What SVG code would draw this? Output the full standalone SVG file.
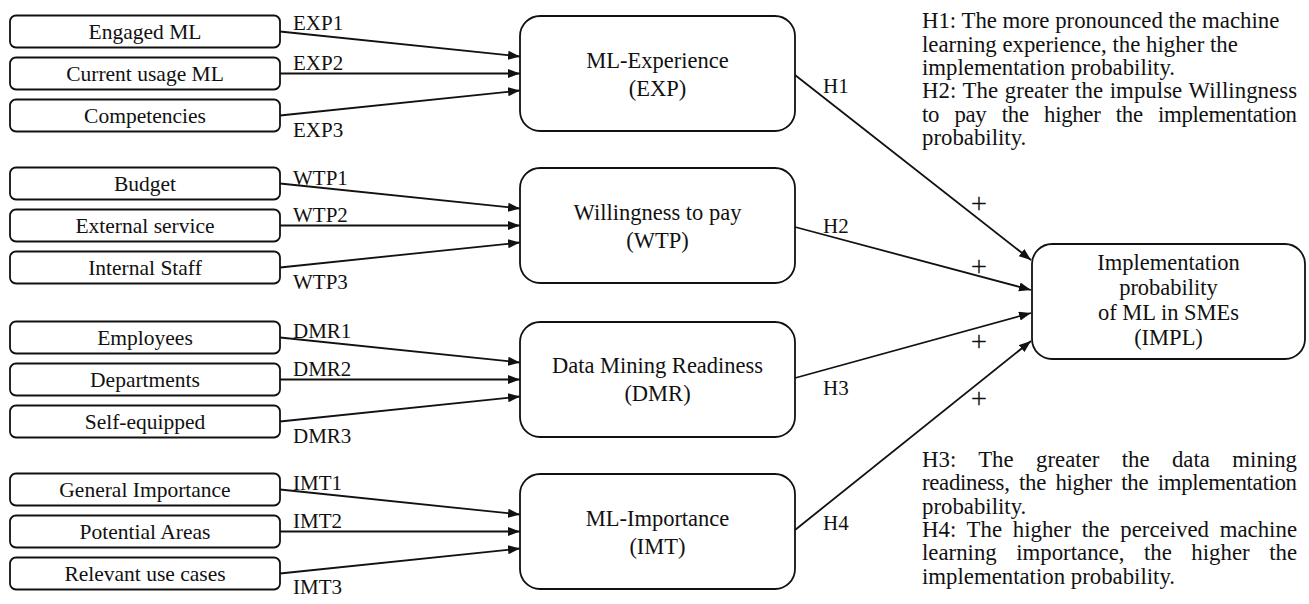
<svg xmlns="http://www.w3.org/2000/svg" width="1309" height="604" viewBox="0 0 1309 604">
<style>
text{font-family:"Liberation Serif","Times New Roman",serif;fill:#111}
.sb{fill:#fff;stroke:#111;stroke-width:1.8}
.mb{fill:#fff;stroke:#111;stroke-width:1.8}
.st{font-size:21.5px;text-anchor:middle}
.mt{font-size:22.5px;text-anchor:middle}
.lb{font-size:21px}
.pl{font-size:29px;text-anchor:middle}
.rt{font-size:22.8px}
.cn line{stroke:#111;stroke-width:1.8;fill:none}
</style>
<defs>
<marker id="ah" markerUnits="userSpaceOnUse" markerWidth="13" markerHeight="10" refX="12" refY="4.5" orient="auto">
<path d="M0,0 L12,4.5 L0,9 z" fill="#111"/>
</marker>
</defs>
<rect width="1309" height="604" fill="#fff"/>

<g id="connectors" class="cn">
<line x1="280" y1="31.5" x2="520" y2="56.5" marker-end="url(#ah)"/>
<line x1="280" y1="73.5" x2="520" y2="73.5" marker-end="url(#ah)"/>
<line x1="280" y1="115.5" x2="520" y2="90.5" marker-end="url(#ah)"/>
<line x1="280" y1="183.5" x2="520" y2="208.5" marker-end="url(#ah)"/>
<line x1="280" y1="225.5" x2="520" y2="225.5" marker-end="url(#ah)"/>
<line x1="280" y1="267.5" x2="520" y2="242.5" marker-end="url(#ah)"/>
<line x1="280" y1="337.5" x2="520" y2="362.5" marker-end="url(#ah)"/>
<line x1="280" y1="379.5" x2="520" y2="379.5" marker-end="url(#ah)"/>
<line x1="280" y1="421.5" x2="520" y2="396.5" marker-end="url(#ah)"/>
<line x1="280" y1="489.5" x2="520" y2="514.5" marker-end="url(#ah)"/>
<line x1="280" y1="531.5" x2="520" y2="531.5" marker-end="url(#ah)"/>
<line x1="280" y1="573.5" x2="520" y2="548.5" marker-end="url(#ah)"/>
<line x1="795" y1="75" x2="1031" y2="260" marker-end="url(#ah)"/>
<line x1="795" y1="227" x2="1031" y2="290" marker-end="url(#ah)"/>
<line x1="795" y1="378" x2="1031" y2="313" marker-end="url(#ah)"/>
<line x1="795" y1="530" x2="1031" y2="341" marker-end="url(#ah)"/>
</g>

<g id="labels">
<text class="lb" x="293" y="30">EXP1</text>
<text class="lb" x="293" y="70">EXP2</text>
<text class="lb" x="293" y="137">EXP3</text>
<text class="lb" x="293" y="185">WTP1</text>
<text class="lb" x="293" y="222">WTP2</text>
<text class="lb" x="293" y="289">WTP3</text>
<text class="lb" x="293" y="338">DMR1</text>
<text class="lb" x="293" y="376">DMR2</text>
<text class="lb" x="293" y="443">DMR3</text>
<text class="lb" x="293" y="490">IMT1</text>
<text class="lb" x="293" y="528">IMT2</text>
<text class="lb" x="293" y="594">IMT3</text>
<text class="lb" x="823" y="93">H1</text>
<text class="lb" x="823" y="233">H2</text>
<text class="lb" x="823" y="395">H3</text>
<text class="lb" x="823" y="530">H4</text>
<text class="pl" x="979" y="212.5">+</text>
<text class="pl" x="979" y="275.5">+</text>
<text class="pl" x="979" y="350.5">+</text>
<text class="pl" x="979" y="407.5">+</text>
</g>

<g id="n-engaged"><rect class="sb" x="10" y="15.5" width="270" height="32" rx="6"/><text class="st" x="145" y="39">Engaged ML</text></g>
<g id="n-current"><rect class="sb" x="10" y="57.5" width="270" height="32" rx="6"/><text class="st" x="145" y="81">Current usage ML</text></g>
<g id="n-competencies"><rect class="sb" x="10" y="99.5" width="270" height="32" rx="6"/><text class="st" x="145" y="123">Competencies</text></g>

<g id="n-budget"><rect class="sb" x="10" y="167.5" width="270" height="32" rx="6"/><text class="st" x="145" y="191">Budget</text></g>
<g id="n-external"><rect class="sb" x="10" y="209.5" width="270" height="32" rx="6"/><text class="st" x="145" y="233">External service</text></g>
<g id="n-internal"><rect class="sb" x="10" y="251.5" width="270" height="32" rx="6"/><text class="st" x="145" y="275">Internal Staff</text></g>

<g id="n-employees"><rect class="sb" x="10" y="321.5" width="270" height="32" rx="6"/><text class="st" x="145" y="345">Employees</text></g>
<g id="n-departments"><rect class="sb" x="10" y="363.5" width="270" height="32" rx="6"/><text class="st" x="145" y="387">Departments</text></g>
<g id="n-selfequipped"><rect class="sb" x="10" y="405.5" width="270" height="32" rx="6"/><text class="st" x="145" y="429">Self-equipped</text></g>

<g id="n-general"><rect class="sb" x="10" y="473.5" width="270" height="32" rx="6"/><text class="st" x="145" y="497">General Importance</text></g>
<g id="n-potential"><rect class="sb" x="10" y="515.5" width="270" height="32" rx="6"/><text class="st" x="145" y="539">Potential Areas</text></g>
<g id="n-relevant"><rect class="sb" x="10" y="557.5" width="270" height="32" rx="6"/><text class="st" x="145" y="581">Relevant use cases</text></g>

<g id="n-exp"><rect class="mb" x="520" y="16" width="275" height="115" rx="20"/><text class="mt" x="657.5" y="68">ML-Experience</text><text class="mt" x="657.5" y="96">(EXP)</text></g>
<g id="n-wtp"><rect class="mb" x="520" y="168" width="275" height="115" rx="20"/><text class="mt" x="657.5" y="220">Willingness to pay</text><text class="mt" x="657.5" y="248">(WTP)</text></g>
<g id="n-dmr"><rect class="mb" x="520" y="322" width="275" height="115" rx="20"/><text class="mt" x="657.5" y="373">Data Mining Readiness</text><text class="mt" x="657.5" y="401">(DMR)</text></g>
<g id="n-imt"><rect class="mb" x="520" y="474" width="275" height="115" rx="20"/><text class="mt" x="657.5" y="526">ML-Importance</text><text class="mt" x="657.5" y="554">(IMT)</text></g>

<g id="n-impl"><rect class="mb" x="1032" y="244" width="273" height="115" rx="20"/>
<text class="mt" x="1168.5" y="270">Implementation</text>
<text class="mt" x="1168.5" y="295">probability</text>
<text class="mt" x="1168.5" y="320">of ML in SMEs</text>
<text class="mt" x="1168.5" y="345">(IMPL)</text>
</g>

<g id="hypotheses-top">
<text class="rt" x="922" y="28">H1: The more pronounced the machine</text>
<text class="rt" x="922" y="51.5">learning experience, the higher the</text>
<text class="rt" x="922" y="75">implementation probability.</text>
<text class="rt" x="922" y="98.3" word-spacing="0.9" textLength="375" lengthAdjust="spacing">H2: The greater the impulse Willingness</text>
<text class="rt" x="922" y="121.7" word-spacing="10" textLength="375" lengthAdjust="spacing">to pay the higher the implementation</text>
<text class="rt" x="922" y="145">probability.</text>
</g>
<g id="hypotheses-bottom">
<text class="rt" x="922" y="467" word-spacing="16.6" textLength="375" lengthAdjust="spacing">H3: The greater the data mining</text>
<text class="rt" x="922" y="490.3" word-spacing="4" textLength="375" lengthAdjust="spacing">readiness, the higher the implementation</text>
<text class="rt" x="922" y="513.6">probability.</text>
<text class="rt" x="922" y="537" word-spacing="5" textLength="375" lengthAdjust="spacing">H4: The higher the perceived machine</text>
<text class="rt" x="922" y="560.3" word-spacing="13.8" textLength="375" lengthAdjust="spacing">learning importance, the higher the</text>
<text class="rt" x="922" y="583.6">implementation probability.</text>
</g>
</svg>
